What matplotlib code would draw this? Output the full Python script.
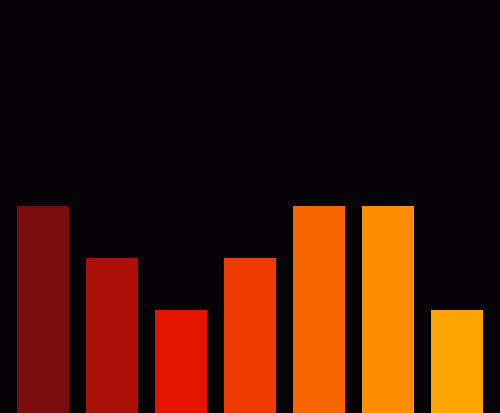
import matplotlib
matplotlib.use("Agg")
import matplotlib.pyplot as plt

# bar data
categories = ['A', 'B', 'C', 'D', 'E', 'F', 'G']
values = [4, 3, 2, 3, 4, 4, 2]
colors = ['#7a0c0e', '#ab1008', '#e51400', '#ef3b00', '#f96500', '#ff8c00', '#ffa300']

fig = plt.figure(figsize=(5.0, 4.14), dpi=100, facecolor='#050305')
ax = fig.add_axes([0, 0, 1, 1])
ax.set_facecolor('#050305')

ax.bar(range(len(categories)), values, width=0.75, color=colors, linewidth=0)

ax.set_xlim(-0.623, len(categories) - 1 + 0.623)
ax.set_ylim(0, 8)
ax.axis('off')

fig.savefig('out.png', dpi=100, facecolor=fig.get_facecolor())
